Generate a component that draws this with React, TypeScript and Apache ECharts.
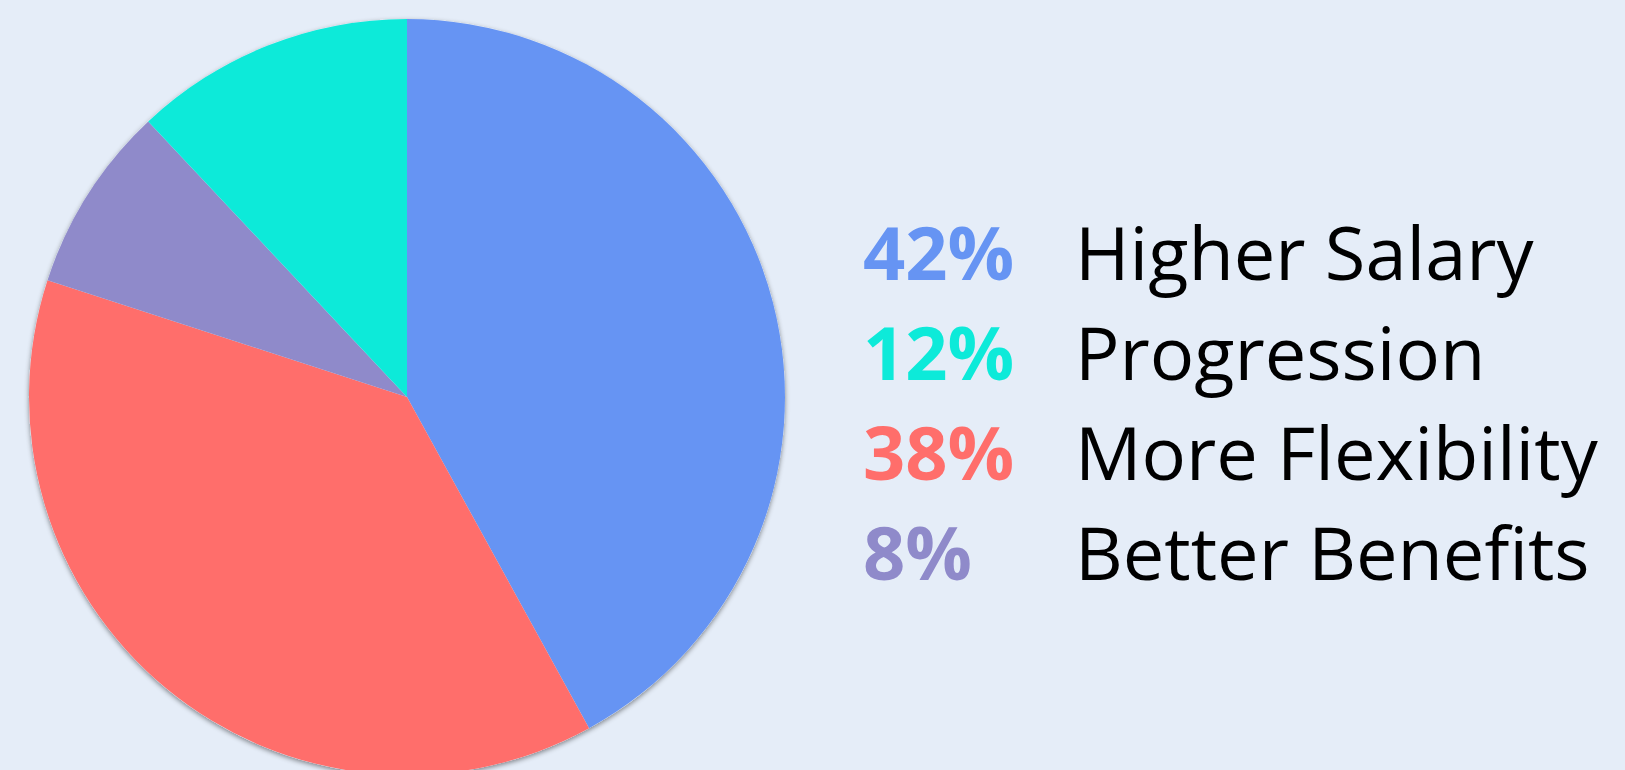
import React, { useEffect, useRef } from "react";
import * as echarts from "echarts";

const categories = ["Higher Salary", "More Flexibility", "Better Benefits", "Progression"];
const values = [42, 38, 8, 12];
const colors = ["#6694F3", "#FF6E6B", "#8F8ACA", "#0DEAD9"];
const legendOrder = ["Higher Salary", "Progression", "More Flexibility", "Better Benefits"];

export default function App() {
  const ref = useRef<HTMLDivElement>(null);
  useEffect(() => {
    document.body.style.margin = "0";
    if (!ref.current) return;
    const chart = echarts.init(ref.current, undefined, { renderer: "svg" });
    const rich: Record<string, any> = {
      n: {
        fontFamily: "'Open Sans', sans-serif",
        fontSize: 74,
        color: "#000000",
      },
    };
    categories.forEach((c, i) => {
      rich["p" + i] = {
        fontFamily: "'Open Sans', sans-serif",
        fontSize: 74,
        fontWeight: "bold",
        color: colors[i],
        width: 212,
      };
    });
    chart.setOption({
      animation: false,
      backgroundColor: "#E5EDF8",
      legend: {
        orient: "vertical",
        left: 853,
        top: 209,
        icon: "none",
        itemWidth: 0,
        itemHeight: 0,
        itemGap: 26,
        selectedMode: false,
        data: legendOrder,
        formatter: (name: string) => {
          const i = categories.indexOf(name);
          return `{p${i}|${values[i]}%}{n|${name}}`;
        },
        textStyle: { rich },
      },
      series: [
        {
          type: "pie",
          silent: true,
          center: [407, 397],
          radius: 378,
          z: 1,
          label: { show: false },
          labelLine: { show: false },
          itemStyle: {
            color: "#E5EDF8",
            shadowColor: "rgba(0,0,0,0.45)",
            shadowBlur: 5,
            shadowOffsetY: 2,
          },
          data: [{ value: 1, name: "__shadow" }],
          legendHoverLink: false,
        },
        {
          type: "pie",
          z: 2,
          center: [407, 397],
          radius: 378,
          startAngle: 90,
          clockwise: true,
          label: { show: false },
          labelLine: { show: false },
          emphasis: { disabled: true },
          itemStyle: { borderWidth: 0 },
          data: categories.map((c, i) => ({
            name: c,
            value: values[i],
            itemStyle: { color: colors[i] },
          })),
        },
      ],
    });
    return () => chart.dispose();
  }, []);
  return <div ref={ref} style={{ width: 1625, height: 770 }} />;
}
